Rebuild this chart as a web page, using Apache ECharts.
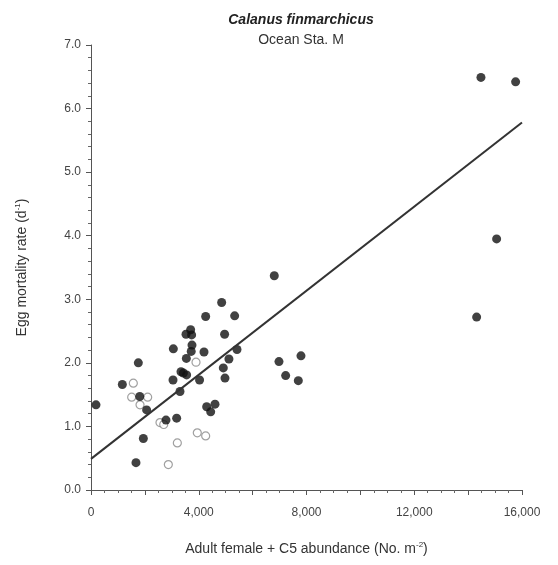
<!DOCTYPE html>
<html>
<head>
<meta charset="utf-8">
<script src="https://cdn.jsdelivr.net/npm/echarts@6/dist/echarts.min.js"></script>
<style>html,body{margin:0;padding:0;background:#fff}#c{width:558px;height:565px}</style>
</head>
<body>
<div id="c"></div>
<script>
var titleText = 'Calanus finmarchicus';
var subtitleText = 'Ocean Sta. M';
var xTicks = [0, 4000, 8000, 12000, 16000];
var yTicks = [0, 1, 2, 3, 4, 5, 6, 7];
var filledX = [185,1163,1757,1810,2066,1943,1670,2784,3180,3057,3045,3304,3341,3550,3540,3527,3699,3736,3749,3720,4030,4195,4257,4294,4443,4603,4850,4960,5333,5420,5120,4911,4974,3430,6804,6978,7795,7226,7696,14476,15763,15058,14316];
var filledY = [1.34,1.66,2.00,1.47,1.26,0.81,0.43,1.10,1.13,2.22,1.73,1.55,1.86,1.81,2.07,2.45,2.52,2.44,2.28,2.18,1.73,2.17,2.73,1.31,1.23,1.35,2.95,2.45,2.74,2.21,2.06,1.92,1.76,1.84,3.37,2.02,2.11,1.80,1.72,6.49,6.42,3.95,2.72];
var openX = [1571,1510,2104,1820,2561,2700,3205,2871,3898,3946,4257];
var openY = [1.68,1.46,1.46,1.34,1.06,1.03,0.74,0.40,2.01,0.90,0.85];
var fitX = [0, 16000];
var fitY = [0.49, 5.78];

function pairs(xs, ys){ return xs.map(function(x,i){ return [x, ys[i]]; }); }

var chart = echarts.init(document.getElementById('c'));
chart.setOption({
  animation: false,
  backgroundColor: '#fff',
  title: {
    text: titleText,
    subtext: subtitleText,
    left: 296, top: 8, textAlign: 'center',
    itemGap: 6,
    textStyle: {fontFamily: 'Liberation Sans', fontSize: 14, fontWeight: 'bold', fontStyle: 'italic', color: '#222'},
    subtextStyle: {fontFamily: 'Liberation Sans', fontSize: 14, color: '#333'}
  },
  grid: {left: 91, right: 36, top: 45, bottom: 75},
  xAxis: {
    type: 'value', min: xTicks[0], max: xTicks[xTicks.length-1], interval: 2000,
    name: '{n|Adult female + C5 abundance (No. m}{s|-2}{n|)}',
    nameLocation: 'middle', nameGap: 51,
    nameTextStyle: {rich: {n: {fontFamily: 'Liberation Sans', fontSize: 14, color: '#333'}, s: {fontFamily: 'Liberation Sans', fontSize: 8, color: '#333', padding: [0,0,8,0]}}},
    axisLine: {show: true, lineStyle: {color: '#555', width: 1}},
    axisTick: {show: true, length: 5, lineStyle: {color: '#555'}},
    minorTick: {show: true, splitNumber: 4, length: 3, lineStyle: {color: '#666'}},
    splitLine: {show: false},
    axisLabel: {margin: 17, fontFamily: 'Liberation Sans', fontSize: 12, color: '#444',
      formatter: function(v){ return xTicks.indexOf(v) >= 0 ? v.toLocaleString('en-US') : ''; }}
  },
  yAxis: {
    type: 'value', min: yTicks[0], max: yTicks[yTicks.length-1], interval: 1,
    name: '{n|Egg mortality rate (d}{s|-1}{n|)}',
    nameLocation: 'middle', nameGap: 61, nameRotate: 90,
    nameTextStyle: {rich: {n: {fontFamily: 'Liberation Sans', fontSize: 14, color: '#333'}, s: {fontFamily: 'Liberation Sans', fontSize: 8, color: '#333', padding: [0,0,8,0]}}},
    axisLine: {show: true, lineStyle: {color: '#555', width: 1}},
    axisTick: {show: true, length: 5, lineStyle: {color: '#555'}},
    minorTick: {show: true, splitNumber: 5, length: 3, lineStyle: {color: '#666'}},
    splitLine: {show: false},
    axisLabel: {margin: 10, fontFamily: 'Liberation Sans', fontSize: 12, color: '#444',
      formatter: function(v){ return v.toFixed(1); }}
  },
  series: [
    {type: 'scatter', data: pairs(openX, openY), symbol: 'circle', symbolSize: 8,
      itemStyle: {color: '#fff', borderColor: '#888', borderWidth: 1.2}, z: 2},
    {type: 'scatter', data: pairs(filledX, filledY), symbol: 'circle', symbolSize: 9,
      itemStyle: {color: '#111'}, z: 3},
    {type: 'line', data: pairs(fitX, fitY), symbol: 'none', lineStyle: {color: '#333', width: 2}, z: 4}
  ]
});
</script>
</body>
</html>
